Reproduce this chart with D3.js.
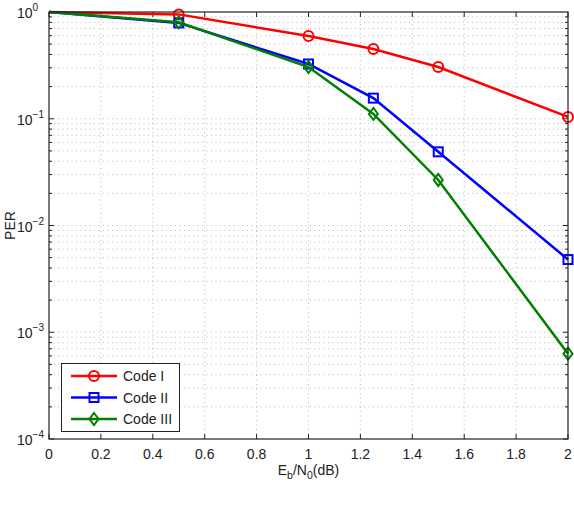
<!DOCTYPE html>
<html>
<head>
<meta charset="utf-8">
<script src="https://cdn.jsdelivr.net/npm/d3@7"></script>
<style>
    body { margin: 0; background: #ffffff; }
    text { font-family: "Liberation Sans", Arial, sans-serif; fill: #222222; }
</style>
</head>
<body>
<script>
// 数据
const ebn0 = [0, 0.5, 1, 1.25, 1.5, 2];
const codeI = [1, 0.95, 0.596, 0.45, 0.305, 0.104];
const codeII = [1, 0.79, 0.326, 0.156, 0.049, 0.0048];
const codeIII = [1, 0.80, 0.305, 0.111, 0.0267, 0.00063];
const seriesNames = ['Code I', 'Code II', 'Code III'];
const xTicks = [0, 0.2, 0.4, 0.6, 0.8, 1, 1.2, 1.4, 1.6, 1.8, 2];
const yExps = [0, -1, -2, -3, -4];

const width = 574, height = 518;
const margin = {left: 49, right: 6, top: 12, bottom: 79};

const svg = d3.select('body')
    .append('svg')
    .attr('width', width)
    .attr('height', height);

const x = d3.scaleLinear().domain([0, 2]).range([margin.left, width - margin.right]);
const y = d3.scaleLog().domain([1e-4, 1]).range([height - margin.bottom, margin.top]);

const x0 = x.range()[0], x1 = x.range()[1];
const y0 = y.range()[0], y1 = y.range()[1];

// 网格线
const grid = svg.append('g').attr('stroke', '#a8a8a8').attr('stroke-width', 0.8).attr('stroke-dasharray', '1,3.5');
xTicks.slice(1, -1).forEach(v => {
    grid.append('line').attr('x1', x(v)).attr('x2', x(v)).attr('y1', y0).attr('y2', y1);
});
let minorVals = [];
for (let e = -4; e < 0; e++) {
    for (let m = 1; m < 10; m++) {
        minorVals.push(m * Math.pow(10, e));
    }
}
minorVals.filter(v => v > 1e-4).forEach(v => {
    grid.append('line').attr('x1', x0).attr('x2', x1).attr('y1', y(v)).attr('y2', y(v));
});

// 刻度线
const ticks = svg.append('g').attr('stroke', '#222222').attr('stroke-width', 1);
xTicks.forEach(v => {
    ticks.append('line').attr('x1', x(v)).attr('x2', x(v)).attr('y1', y0).attr('y2', y0 - 5);
    ticks.append('line').attr('x1', x(v)).attr('x2', x(v)).attr('y1', y1).attr('y2', y1 + 5);
});
minorVals.forEach(v => {
    const len = (Math.abs(Math.log10(v) - Math.round(Math.log10(v))) < 1e-9) ? 5 : 3;
    ticks.append('line').attr('x1', x0).attr('x2', x0 + len).attr('y1', y(v)).attr('y2', y(v));
    ticks.append('line').attr('x1', x1).attr('x2', x1 - len).attr('y1', y(v)).attr('y2', y(v));
});

// 坐标轴标签
svg.append('g').selectAll('text')
    .data(xTicks)
    .enter()
    .append('text')
    .attr('x', d => x(d))
    .attr('y', y0 + 20)
    .attr('text-anchor', 'middle')
    .style('font-size', '14px')
    .text(d => d);

const yLab = svg.append('g').selectAll('text')
    .data(yExps)
    .enter()
    .append('text')
    .attr('x', x0 - 32)
    .attr('y', d => y(Math.pow(10, d)) + 6)
    .style('font-size', '14px');
yLab.append('tspan').text('10');
yLab.append('tspan').attr('dy', -7).style('font-size', '10px').text(d => d === 0 ? '0' : '\u2212' + (-d));

// 绘制曲线
const colors = ['#ff0000', '#0000ff', '#008000'];
const series = [codeI, codeII, codeIII];
const line = d3.line().x(d => x(d[0])).y(d => y(d[1]));
const plot = svg.append('g');

function marker(g, k, cx, cy) {
    if (k === 0) {
        g.append('circle').attr('cx', cx).attr('cy', cy).attr('r', 5)
            .attr('fill', 'none').attr('stroke', colors[k]).attr('stroke-width', 2);
    } else if (k === 1) {
        g.append('rect').attr('x', cx - 4.5).attr('y', cy - 4.5).attr('width', 9).attr('height', 9)
            .attr('fill', 'none').attr('stroke', colors[k]).attr('stroke-width', 2);
    } else {
        g.append('path').attr('d', `M${cx},${cy - 6}L${cx + 4.5},${cy}L${cx},${cy + 6}L${cx - 4.5},${cy}Z`)
            .attr('fill', 'none').attr('stroke', colors[k]).attr('stroke-width', 2);
    }
}

series.forEach((vals, k) => {
    const pts = ebn0.map((v, i) => [v, vals[i]]);
    plot.append('path')
        .attr('d', line(pts))
        .attr('fill', 'none')
        .attr('stroke', colors[k])
        .attr('stroke-width', 2.5);
    pts.slice(1).forEach(p => marker(plot, k, x(p[0]), y(p[1])));
});

// 边框
svg.append('rect')
    .attr('x', x0).attr('y', y1)
    .attr('width', x1 - x0).attr('height', y0 - y1)
    .attr('fill', 'none').attr('stroke', '#222222').attr('stroke-width', 1.2);

// 轴标题
const xt = svg.append('text')
    .attr('x', (x0 + x1) / 2)
    .attr('y', y0 + 36)
    .attr('text-anchor', 'middle')
    .style('font-size', '14px');
xt.append('tspan').text('E');
xt.append('tspan').attr('dy', 4).style('font-size', '10.5px').text('b');
xt.append('tspan').attr('dy', -4).text('/N');
xt.append('tspan').attr('dy', 4).style('font-size', '10.5px').text('0');
xt.append('tspan').attr('dy', -4).text('(dB)');

svg.append('text')
    .attr('transform', `translate(15,${(y0 + y1) / 2}) rotate(-90)`)
    .attr('text-anchor', 'middle')
    .style('font-size', '14px')
    .text('PER');

// 图例
const lg = svg.append('g');
lg.append('rect')
    .attr('x', 61.5).attr('y', 363.5).attr('width', 118).attr('height', 68)
    .attr('fill', '#ffffff').attr('stroke', '#222222').attr('stroke-width', 1);
seriesNames.forEach((name, k) => {
    const ly = 376 + k * 21.5;
    lg.append('line').attr('x1', 71).attr('x2', 117).attr('y1', ly).attr('y2', ly)
        .attr('stroke', colors[k]).attr('stroke-width', 2.5);
    marker(lg, k, 94, ly);
    lg.append('text').attr('x', 123).attr('y', ly + 5).style('font-size', '14px').text(name);
});
</script>
</body>
</html>
